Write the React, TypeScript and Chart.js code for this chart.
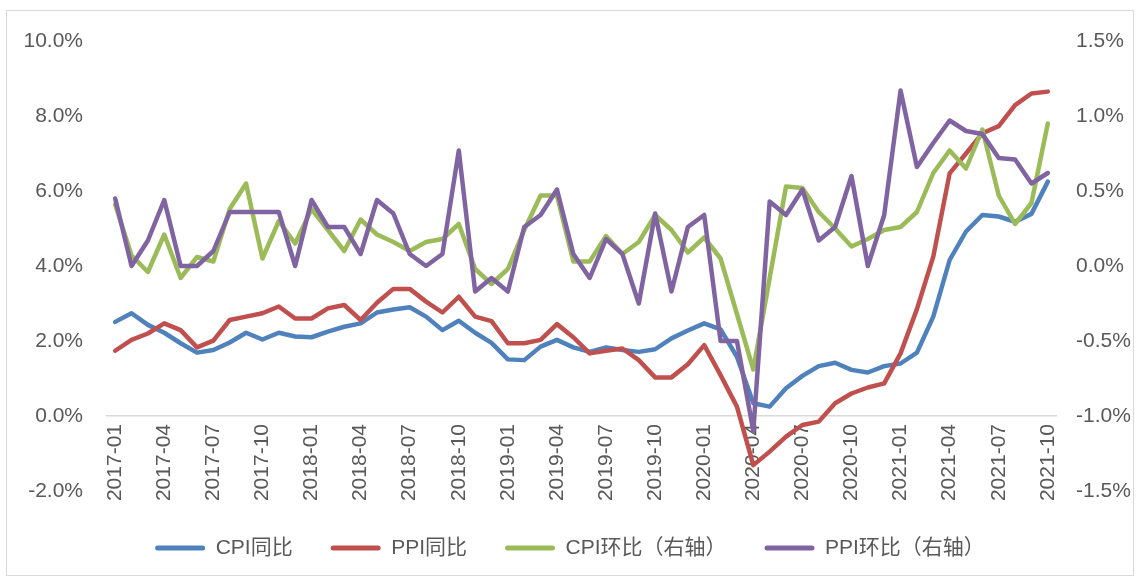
import React, { useEffect, useRef } from "react";
import { Chart, registerables } from "chart.js";

Chart.register(...registerables);

const months: string[] = [];
for (let y = 2017; y <= 2021; y++) {
  for (let m = 1; m <= 12; m++) {
    if (y === 2021 && m > 10) break;
    months.push(`${y}-${String(m).padStart(2, "0")}`);
  }
}

const cpiYoY = [
  2.51, 2.74, 2.43, 2.22, 1.94, 1.69, 1.76, 1.96, 2.22, 2.04, 2.22, 2.12,
  2.1, 2.25, 2.38, 2.47, 2.76, 2.84, 2.9, 2.65, 2.29, 2.54, 2.22, 1.95,
  1.51, 1.49, 1.85, 2.03, 1.83, 1.71, 1.83, 1.76, 1.71, 1.78, 2.07, 2.28,
  2.47, 2.31, 1.58, 0.34, 0.25, 0.74, 1.07, 1.33, 1.42, 1.23, 1.16, 1.33,
  1.4, 1.69, 2.65, 4.16, 4.92, 5.36, 5.32, 5.18, 5.39, 6.25,
];

const ppiYoY = [
  1.74, 2.03, 2.2, 2.47, 2.29, 1.83, 2.01, 2.56, 2.65, 2.74, 2.92, 2.6,
  2.6, 2.87, 2.96, 2.56, 3.02, 3.39, 3.39, 3.05, 2.76, 3.18, 2.65, 2.53,
  1.94, 1.94, 2.03, 2.45, 2.1, 1.67, 1.74, 1.8, 1.49, 1.03, 1.03, 1.38,
  1.89, 1.09, 0.25, -1.31, -0.95, -0.55, -0.24, -0.15, 0.34, 0.6, 0.76, 0.87,
  1.67, 2.85, 4.25, 6.47, 7.0, 7.54, 7.73, 8.29, 8.6, 8.65,
];

const cpiMoM = [
  0.41, 0.07, -0.04, 0.21, -0.08, 0.06, 0.03, 0.38, 0.55, 0.05, 0.3, 0.15,
  0.38, 0.24, 0.1, 0.31, 0.21, 0.16, 0.1, 0.16, 0.18, 0.28, -0.02, -0.12,
  -0.02, 0.24, 0.47, 0.47, 0.03, 0.03, 0.2, 0.08, 0.16, 0.34, 0.24, 0.09,
  0.19, 0.05, -0.32, -0.69, -0.08, 0.53, 0.52, 0.36, 0.25, 0.13, 0.18, 0.24,
  0.26, 0.36, 0.62, 0.77, 0.65, 0.91, 0.47, 0.28, 0.42, 0.95,
];

const ppiMoM = [
  0.45, 0.0, 0.17, 0.44, 0.0, 0.0, 0.1, 0.36, 0.36, 0.36, 0.36, 0.0,
  0.44, 0.26, 0.26, 0.08, 0.44, 0.35, 0.08, 0.0, 0.08, 0.77, -0.17, -0.08,
  -0.17, 0.26, 0.34, 0.51, 0.08, -0.08, 0.18, 0.08, -0.25, 0.35, -0.17, 0.26,
  0.34, -0.5, -0.5, -1.1, 0.43, 0.34, 0.51, 0.17, 0.26, 0.6, 0.0, 0.34,
  1.17, 0.66, 0.82, 0.97, 0.9, 0.88, 0.72, 0.71, 0.55, 0.62,
];

const seriesNames = ["CPI同比", "PPI同比", "CPI环比（右轴）", "PPI环比（右轴）"];
const colors = ["#4F81BD", "#C0504D", "#9BBB59", "#8064A2"];

const FONT = '"Liberation Sans", "Noto Sans CJK SC", sans-serif';
const TEXT = "#595959";

export default function App() {
  const ref = useRef<HTMLCanvasElement | null>(null);

  useEffect(() => {
    if (!ref.current) return;
    const values = [cpiYoY, ppiYoY, cpiMoM, ppiMoM];
    const axes = ["y", "y", "y1", "y1"];
    const chart = new Chart(ref.current, {
      type: "line",
      data: {
        labels: months,
        datasets: values.map((v, i) => ({
          label: seriesNames[i],
          data: v,
          yAxisID: axes[i],
          borderColor: colors[i],
          backgroundColor: colors[i],
          borderWidth: 4.5,
          pointRadius: 0,
          tension: 0,
          borderJoinStyle: "round" as const,
          borderCapStyle: "round" as const,
          order: 4 - i,
        })),
      },
      options: {
        responsive: false,
        animation: false,
        layout: { padding: { top: 41, left: 0, right: 0, bottom: 11.5 } },
        plugins: {
          tooltip: { enabled: false },
          legend: {
            position: "bottom",
            labels: {
              boxWidth: 50,
              boxHeight: 5,
              padding: 38,
              color: TEXT,
              font: { family: FONT, size: 21 },
              sort: (a: any, b: any) => a.datasetIndex - b.datasetIndex,
              useBorderRadius: true,
              borderRadius: 2.5,
              generateLabels: (c: any) =>
                c.data.datasets.map((d: any, i: number) => ({
                  text: d.label,
                  fillStyle: colors[i],
                  strokeStyle: colors[i],
                  lineWidth: 0,
                  fontColor: TEXT,
                  datasetIndex: i,
                  hidden: false,
                  borderRadius: 2.5,
                })),
            },
          },
        },
        scales: {
          x: {
            type: "category",
            position: { y: 0 } as any,
            offset: true,
            grid: { display: false, drawTicks: false },
            border: { display: true, color: "#d9d9d9", width: 1.5 },
            ticks: {
              autoSkip: false,
              minRotation: 90,
              maxRotation: 90,
              padding: 8,
              color: TEXT,
              font: { family: FONT, size: 21 },
              callback: (_v: any, idx: number) => (idx % 3 === 0 ? months[idx] : null),
            },
          },
          xs: {
            type: "category",
            position: "bottom",
            display: true,
            grid: { display: false, drawTicks: false },
            border: { display: false },
            ticks: { display: false },
            afterFit: (s: any) => {
              s.height = 8.5;
            },
          },
          y: {
            position: "left",
            min: -2,
            max: 10,
            grid: { display: false, drawTicks: false },
            border: { display: false },
            ticks: {
              stepSize: 2,
              padding: 24,
              color: TEXT,
              font: { family: FONT, size: 21 },
              callback: (v: any) => Number(v).toFixed(1) + "%",
            },
            afterFit: (s: any) => {
              s.width = 107;
            },
          },
          y1: {
            position: "right",
            min: -1.5,
            max: 1.5,
            grid: { display: false, drawTicks: false },
            border: { display: false },
            ticks: {
              stepSize: 0.5,
              padding: 20,
              color: TEXT,
              font: { family: FONT, size: 21 },
              callback: (v: any) => Number(v).toFixed(1) + "%",
            },
            afterFit: (s: any) => {
              s.width = 84;
            },
          },
        },
      },
    });
    return () => chart.destroy();
  }, []);

  return (
    <div style={{ position: "absolute", left: 0, top: 0, width: 1140, height: 580, background: "#fff" }}>
      <div
        style={{
          position: "absolute",
          left: 6,
          top: 10,
          width: 1128,
          height: 566,
          boxSizing: "border-box",
          border: "1.5px solid #d9d9d9",
        }}
      />
      <canvas
        ref={ref}
        width={1140}
        height={580}
        style={{ position: "absolute", left: 0, top: 0, width: 1140, height: 580 }}
      />
    </div>
  );
}
